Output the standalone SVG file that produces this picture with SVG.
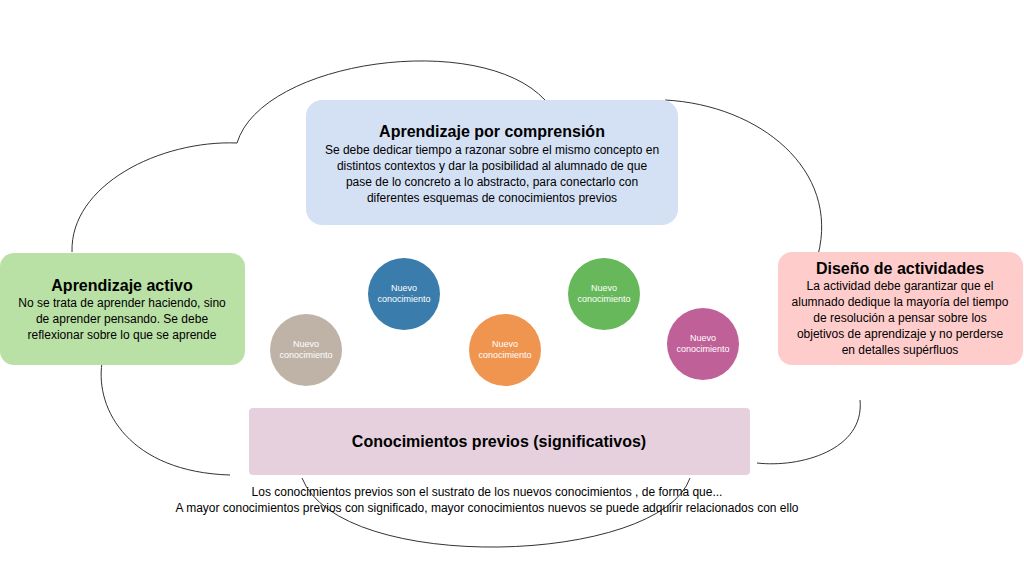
<svg xmlns="http://www.w3.org/2000/svg" width="1024" height="579" viewBox="0 0 1024 579">
<style>
text{font-family:"Liberation Sans",Arial,sans-serif;text-anchor:middle;fill:#000}
.t{font-size:16px;font-weight:bold}
.b{font-size:12px}
.c{font-size:9px;fill:#fff}
.cloud{fill:none;stroke:#333;stroke-width:1}
</style>
<rect width="1024" height="579" fill="#fff"/>
<g id="connectors">
<path class="cloud" d="M72 252 C70 185 160 140 237 143 C262 60 480 30 545 100 M665 100 C760 105 840 170 818 255 M860 400 C865 450 800 468 757 463 M690 478 C660 565 340 575 302 478 M230 475 C130 472 95 410 102 363"/>
</g>
<g id="comprension"><rect x="306" y="100" width="372" height="125" rx="16" fill="#d4e1f5"/>
<text class="t" x="492" y="137">Aprendizaje por comprensión</text>
<text class="b" x="492" y="154">Se debe dedicar tiempo a razonar sobre el mismo concepto en</text>
<text class="b" x="492" y="170">distintos contextos y dar la posibilidad al alumnado de que</text>
<text class="b" x="492" y="186">pase de lo concreto a lo abstracto, para conectarlo con</text>
<text class="b" x="492" y="202">diferentes esquemas de conocimientos previos</text></g>
<g id="activo"><rect x="0" y="253" width="245" height="112" rx="14" fill="#b9e0a5"/>
<text class="t" x="122" y="291">Aprendizaje activo</text>
<text class="b" x="122" y="307">No se trata de aprender haciendo, sino</text>
<text class="b" x="122" y="323">de aprender pensando. Se debe</text>
<text class="b" x="122" y="339">reflexionar sobre lo que se aprende</text></g>
<g id="diseno"><rect x="778" y="252" width="245" height="113" rx="14" fill="#ffcccc"/>
<text class="t" x="900" y="274">Diseño de actividades</text>
<text class="b" x="900" y="290">La actividad debe garantizar que el</text>
<text class="b" x="900" y="306">alumnado dedique la mayoría del tiempo</text>
<text class="b" x="900" y="322">de resolución a pensar sobre los</text>
<text class="b" x="900" y="338">objetivos de aprendizaje y no perderse</text>
<text class="b" x="900" y="354">en detalles supérfluos</text></g>
<g id="previos"><rect x="249" y="408" width="501" height="67" rx="4" fill="#e6d0de"/>
<text class="t" x="499" y="447">Conocimientos previos (significativos)</text></g>
<g id="n1"><circle cx="306" cy="350" r="36" fill="#bfb3a7"/><text class="c" x="306" y="347">Nuevo</text><text class="c" x="306" y="358">conocimiento</text></g>
<g id="n2"><circle cx="404" cy="294" r="36" fill="#3a7cab"/><text class="c" x="404" y="291">Nuevo</text><text class="c" x="404" y="302">conocimiento</text></g>
<g id="n3"><circle cx="505" cy="350" r="36" fill="#f0954f"/><text class="c" x="505" y="347">Nuevo</text><text class="c" x="505" y="358">conocimiento</text></g>
<g id="n4"><circle cx="604" cy="294" r="36" fill="#67b85a"/><text class="c" x="604" y="291">Nuevo</text><text class="c" x="604" y="302">conocimiento</text></g>
<g id="n5"><circle cx="703" cy="344" r="36" fill="#c06098"/><text class="c" x="703" y="341">Nuevo</text><text class="c" x="703" y="352">conocimiento</text></g>
<g id="nota">
<text class="b" x="487" y="496">Los conocimientos previos son el sustrato de los nuevos conocimientos , de forma que...</text>
<text class="b" x="487" y="512">A mayor conocimientos previos con significado, mayor conocimientos nuevos se puede adquirir relacionados con ello</text></g>
</svg>
